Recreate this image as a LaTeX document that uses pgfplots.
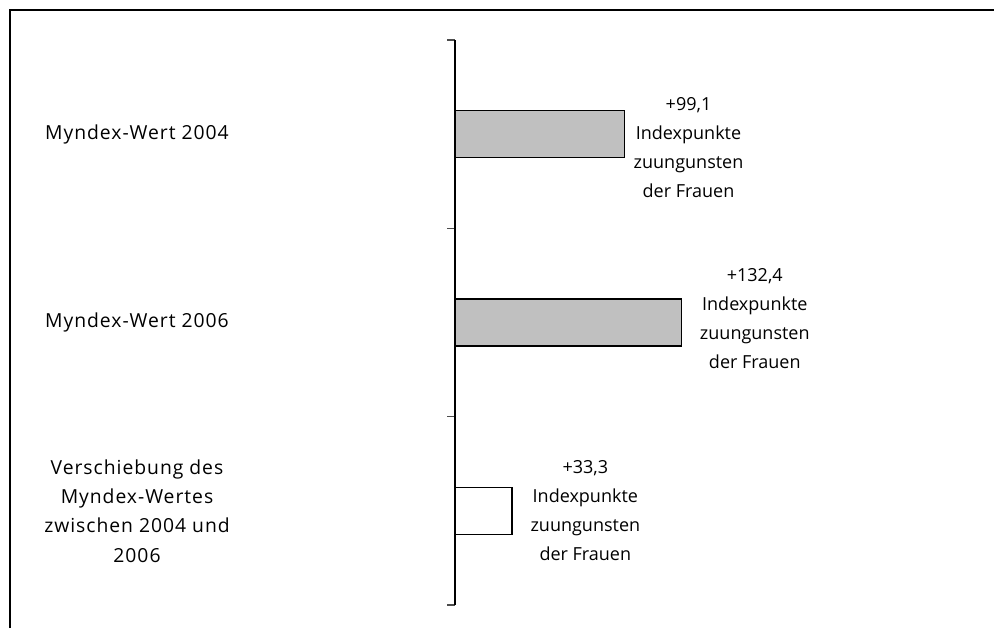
\documentclass[border=0pt]{standalone}
\usepackage{pgfplots}
\pgfplotsset{compat=1.18}
\usepackage{fontspec}
\setmainfont{Open Sans}
\newfontfamily\labfont[LetterSpace=5]{Open Sans}
\definecolor{bargray}{RGB}{192,192,192}
\begin{document}
\begin{tikzpicture}[font=\fontsize{13.5}{21.75}\selectfont]
\path[use as bounding box] (0,0) rectangle (745.5pt,-471pt);
\draw[line width=1.2pt] (7.5pt,-471pt) -- (7.5pt,-7.5pt) -- (745.5pt,-7.5pt);
\begin{axis}[
  at={(341.25pt,-30pt)}, anchor=north west,
  scale only axis, width=384.75pt, height=423.75pt,
  xmin=0, xmax=300, ymin=-0.5, ymax=2.5, y dir=reverse,
  axis x line=none, axis y line=left, y axis line style={-, line width=0.9pt},
  xtick=\empty, ytick={-0.5,0.5,1.5,2.5}, yticklabels={},
  tick align=outside, major tick length=6pt,
  tick style={line width=0.9pt, black!70},
  xbar, bar width=35.25pt, bar shift=0pt, clip=false,
  nodes near coords={+\pgfmathprintnumber[use comma,fixed,precision=1,fixed zerofill,assume math mode=true]{\pgfplotspointmeta}\\Indexpunkte\\zuungunsten\\der Frauen},
  point meta=x,
  every node near coord/.append style={align=center, anchor=west, xshift=3pt, black, font=\fontsize{13.5}{21.75}\selectfont},
]
\addplot[draw=black, line width=1.2pt, fill=bargray, nodes near coords style={yshift=-10pt}] coordinates {(99.1,0)};
\addplot[draw=black, line width=1.2pt, fill=bargray, nodes near coords style={yshift=3pt, xshift=7pt}] coordinates {(132.4,1)};
\addplot[draw=black, line width=1.2pt, fill=white, nodes near coords style={yshift=0pt, xshift=7pt}] coordinates {(33.3,2)};
\node[align=center, font=\labfont\fontsize{14.5}{22}\selectfont] at (axis cs:0,0) [xshift=-238.5pt] {Myndex-Wert 2004};
\node[align=center, font=\labfont\fontsize{14.5}{22}\selectfont] at (axis cs:0,1) [xshift=-238.5pt] {Myndex-Wert 2006};
\node[align=center, font=\labfont\fontsize{14.5}{22}\selectfont] at (axis cs:0,2) [xshift=-238.5pt] {Verschiebung des\\Myndex-Wertes\\zwischen 2004 und\\2006};
\end{axis}
\end{tikzpicture}
\end{document}
